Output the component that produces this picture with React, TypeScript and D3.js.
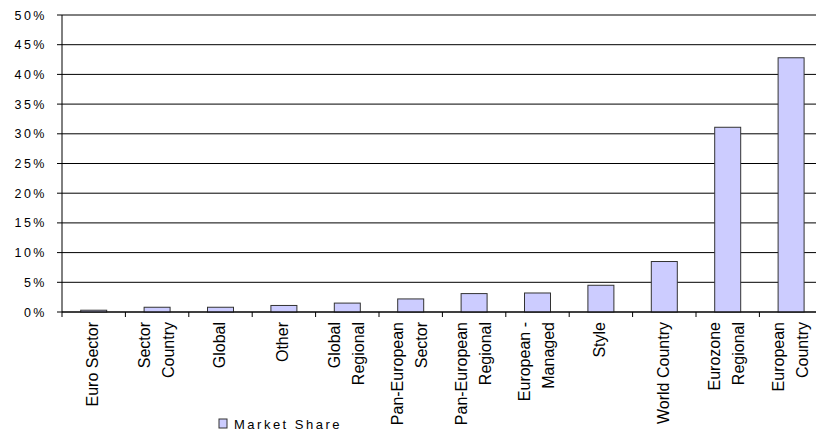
import React from "react";
import * as d3 from "d3";

const categories: string[][] = [
  ["Euro Sector"],
  ["Sector", "Country"],
  ["Global"],
  ["Other"],
  ["Global", "Regional"],
  ["Pan-European", "Sector"],
  ["Pan-European", "Regional"],
  ["European -", "Managed"],
  ["Style"],
  ["World Country"],
  ["Eurozone", "Regional"],
  ["European", "Country"],
];
const marketShare: number[] = [0.3, 0.8, 0.8, 1.1, 1.5, 2.2, 3.1, 3.2, 4.5, 8.5, 31.1, 42.8];
const yTicks: number[] = [0, 5, 10, 15, 20, 25, 30, 35, 40, 45, 50];
const seriesName = "Market Share";

const W = 816;
const H = 430;
const left = 62;
const top = 15;
const bottom = 312;
const bandStep = 63.4;
const right = left + bandStep * categories.length;

export default function App() {
  const keys = categories.map((c) => c.join(" "));
  const x = d3.scaleBand<string>().domain(keys).range([left, right]).padding(0);
  const y = d3.scaleLinear().domain([0, 50]).range([bottom, top]);
  const bw = x.bandwidth() * 0.41;
  const font = "Arial, 'Liberation Sans', sans-serif";

  return (
    <svg
      width={W}
      height={H}
      style={{ position: "absolute", left: 0, top: 0, background: "#fff" }}
      fontFamily={font}
    >
      {/* gridlines */}
      {yTicks.map((t) => (
        <line key={"g" + t} x1={left} x2={right} y1={y(t)} y2={y(t)} stroke="#000" strokeWidth={1} />
      ))}
      {/* y tick marks and labels */}
      {yTicks.map((t) => (
        <g key={"yt" + t}>
          <line x1={left - 5} x2={left} y1={y(t)} y2={y(t)} stroke="#000" />
          <text
            x={47}
            y={y(t) + 4.5}
            textAnchor="end"
            fontSize={12.5}
            letterSpacing={2.5}
            fill="#000"
          >
            {t + "%"}
          </text>
        </g>
      ))}
      {/* bars */}
      {keys.map((k, i) => (
        <rect
          key={"b" + k}
          x={(x(k) as number) + (x.bandwidth() - bw) / 2}
          y={y(marketShare[i])}
          width={bw}
          height={bottom - y(marketShare[i])}
          fill="#CCCCFF"
          stroke="#333"
          strokeWidth={1}
        />
      ))}
      {/* axes */}
      <line x1={left} x2={left} y1={top} y2={bottom} stroke="#000" />
      <line x1={left} x2={right} y1={bottom} y2={bottom} stroke="#000" />
      {keys.map((k) => (
        <line
          key={"xt" + k}
          x1={x(k) as number}
          x2={x(k) as number}
          y1={bottom}
          y2={bottom + 5}
          stroke="#000"
        />
      ))}
      {/* x labels */}
      {categories.map((lines, i) => {
        const k = keys[i];
        const cx = (x(k) as number) + x.bandwidth() / 2;
        const n = lines.length;
        return (
          <g key={"xl" + k}>
            {lines.map((ln, j) => {
              const base = cx + 4.5 + (j - (n - 1) / 2) * 24;
              return (
                <text
                  key={j}
                  transform={`translate(${base},${bottom + 10}) rotate(-90)`}
                  textAnchor="end"
                  fontSize={16}
                  fill="#000"
                >
                  {ln}
                </text>
              );
            })}
          </g>
        );
      })}
      {/* legend */}
      <rect x={219} y={419} width={8} height={9} fill="#CCCCFF" stroke="#333" />
      <text x={234} y={428.5} fontSize={13} letterSpacing={2.5} fill="#000">
        {seriesName}
      </text>
    </svg>
  );
}
